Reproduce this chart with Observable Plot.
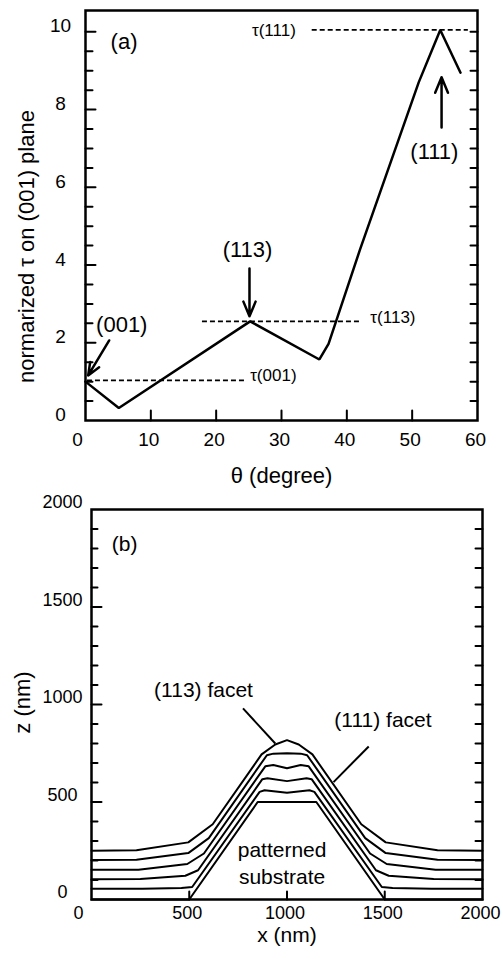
<!DOCTYPE html>
<html><head><meta charset="utf-8">
<script src="https://cdn.jsdelivr.net/npm/d3@7"></script>
<script src="https://cdn.jsdelivr.net/npm/@observablehq/plot@0.6"></script>
<style>
body{margin:0;background:#fff;}
#c{width:503px;}
#c svg{display:block;}
</style></head><body><div id="c"></div>
<script>
const FONT = '"Liberation Sans", Arial, Helvetica, sans-serif';

// ---------- panel (a) data ----------
const theta = [0, 5.1, 25.2, 35.8, 37.2, 42.0, 51.0, 54.3, 57.4];
const tau   = [1.0, 0.32, 2.55, 1.57, 1.97, 4.39, 8.7, 10.05, 8.95];
const refNames  = ["τ(001)", "τ(113)", "τ(111)"];
const refValues = [1.03, 2.55, 10.05];
const refFrom   = [0.3, 17.9, 34.7];
const refTo     = [24.5, 42.0, 58.6];
const xTicksA = [0, 10, 20, 30, 40, 50, 60];
const yTicksA = [0, 2, 4, 6, 8, 10];

// ---------- panel (b) data ----------
const xTicksB = [0, 500, 1000, 1500, 2000];
const zTicksB = [0, 500, 1000, 1500, 2000];
const substrate = [[0,0],[500,0],[850,500],[1150,500],[1500,0],[2000,0]];
const layer1 = [[0,55],[260,55],[460,59],[515,64],[860,552],[885,560],[1000,548],[1115,560],[1140,552],[1485,64],[1540,59],[1740,55],[2000,55]];
const layer2 = [[0,104],[250,105],[480,122],[545,150],[874,617],[900,622],[1000,607],[1100,622],[1126,617],[1455,150],[1520,122],[1750,105],[2000,104]];
const layer3 = [[0,152],[240,153],[490,182],[575,236],[889,683],[930,690],[1000,673],[1070,690],[1111,683],[1425,236],[1510,182],[1760,153],[2000,152]];
const layer4 = [[0,203],[230,204],[495,238],[600,315],[897,740],[930,748],[1000,750],[1070,748],[1103,740],[1400,315],[1505,238],[1770,204],[2000,203]];
const layer5 = [[0,250],[230,252],[495,293],[620,386],[870,744],[940,795],[1000,817],[1060,795],[1130,744],[1380,386],[1505,293],[1770,252],[2000,250]];
const profiles = [substrate, layer1, layer2, layer3, layer4, layer5];

// short inward ticks drawn as Plot vectors anchored to a frame side
function ticks(values, channel, side, len) {
  const rot = {left: 90, right: -90, bottom: 0}[side];
  return Plot.vector(values, {[channel]: d => d, frameAnchor: side, length: len, rotate: rot,
    anchor: "start", shape: "spike", r: 0, fill: "none", stroke: "black", strokeWidth: 2});
}

// ---------- panel (a) ----------
const curveA = theta.map((t, i) => ({theta: t, tau: tau[i]}));
const refs = refNames.map((n, i) => ({name: n, value: refValues[i], from: refFrom[i], to: refTo[i]}));
const refLabelsStart = [
  {name: refNames[0], x: 25.2, y: 1.16},
  {name: refNames[1], x: 43.6, y: 2.66}
];
const refLabelsEnd = [
  {name: refNames[2], x: 32.2, y: 10.04}
];
const annA = [
  {t: "(a)", x: 5.9, y: 9.73},
  {t: "(001)", x: 5.55, y: 2.45},
  {t: "(113)", x: 24.8, y: 4.38},
  {t: "(111)", x: 53.4, y: 6.9}
];
const arrowsA = [
  {x1: 3.63, y1: 2.06, x2: 0.41, y2: 1.16},
  {x1: 25.1, y1: 3.91, x2: 25.1, y2: 2.68},
  {x1: 54.5, y1: 7.54, x2: 54.5, y2: 8.83}
];
const yAllA = d3.range(0.5, 10.01, 0.5);
const yMinorA = yAllA.filter(d => d % 2 !== 0);

const plotA = Plot.plot({
  width: 503, height: 492,
  marginLeft: 85, marginRight: 26, marginTop: 10, marginBottom: 72,
  style: {fontFamily: FONT, background: "#fff"},
  x: {domain: [0, 60], axis: null},
  y: {domain: [0, 10.55], axis: null},
  marks: [
    ticks(yTicksA.filter(d => d > 0), "y", "left", 10),
    ticks(yMinorA, "y", "left", 7),
    ticks(yAllA, "y", "right", 7),
    ticks(xTicksA.filter(d => d > 0 && d < 60), "x", "bottom", 10),
    Plot.text(xTicksA.filter(d => d > 0), {x: d => d, text: d => String(d), frameAnchor: "bottom", dy: 19, dx: -2, textAnchor: "middle", lineAnchor: "middle", fontSize: 19}),
    Plot.text([0], {x: d => d, text: d => String(d), frameAnchor: "bottom", dy: 19, dx: -8, textAnchor: "middle", lineAnchor: "middle", fontSize: 19}),
    Plot.text(yTicksA, {y: d => d, text: d => String(d), frameAnchor: "left", dx: -25, dy: -5.5, textAnchor: "middle", lineAnchor: "middle", fontSize: 19}),
    Plot.text(["normarized τ on (001) plane"], {text: d => d, frameAnchor: "left", dx: -59, dy: 31, rotate: -90, textAnchor: "middle", lineAnchor: "middle", fontSize: 22}),
    Plot.text(["θ (degree)"], {text: d => d, frameAnchor: "bottom", dy: 55, textAnchor: "middle", lineAnchor: "middle", fontSize: 22}),
    Plot.ruleY(refs, {y: "value", x1: "from", x2: "to", strokeDasharray: "5,3", strokeWidth: 1.7}),
    Plot.text(refLabelsStart, {x: "x", y: "y", text: "name", textAnchor: "start", lineAnchor: "middle", fontSize: 17}),
    Plot.text(refLabelsEnd, {x: "x", y: "y", text: "name", textAnchor: "end", lineAnchor: "middle", fontSize: 17}),
    Plot.line(curveA, {x: "theta", y: "tau", strokeWidth: 2.5, strokeLinejoin: "miter"}),
    Plot.text(annA, {x: "x", y: "y", text: "t", textAnchor: "middle", lineAnchor: "middle", fontSize: 22}),
    Plot.arrow(arrowsA, {x1: "x1", y1: "y1", x2: "x2", y2: "y2", strokeWidth: 2.5, headLength: 13, headAngle: 45}),
    Plot.frame({strokeWidth: 2.5})
  ]
});

// ---------- panel (b) ----------
const annB = [
  {t: "(b)", x: 169, y: 1830},
  {t: "(113) facet", x: 573, y: 1084},
  {t: "(111) facet", x: 1491, y: 926},
  {t: "patterned\nsubstrate", x: 975, y: 192}
];
const pointersB = [
  {x1: 775, y1: 980, x2: 940, y2: 800},
  {x1: 1418, y1: 785, x2: 1238, y2: 602}
];
const zAllB = d3.range(100, 2000, 100);
const zMinorB = zAllB.filter(d => d % 500 !== 0);

const plotB = Plot.plot({
  width: 503, height: 467,
  marginLeft: 91, marginRight: 21, marginTop: 17, marginBottom: 60,
  style: {fontFamily: FONT, background: "#fff"},
  x: {domain: [0, 2000], axis: null},
  y: {domain: [0, 2000], axis: null},
  marks: [
    ticks(zTicksB.filter(d => d > 0 && d < 2000), "y", "left", 10),
    ticks(zMinorB, "y", "left", 6),
    ticks(zAllB, "y", "right", 7),
    ticks(xTicksB.filter(d => d > 0 && d < 2000), "x", "bottom", 8),
    Plot.text(xTicksB.filter(d => d > 0), {x: d => d, text: d => String(d), frameAnchor: "bottom", dy: 14, dx: -2, textAnchor: "middle", lineAnchor: "middle", fontSize: 18}),
    Plot.text([0], {x: d => d, text: d => String(d), frameAnchor: "bottom", dy: 14, dx: -13, textAnchor: "middle", lineAnchor: "middle", fontSize: 18}),
    Plot.text(zTicksB, {y: d => d, text: d => String(d), frameAnchor: "left", dx: -29, dy: -7, textAnchor: "middle", lineAnchor: "middle", fontSize: 18}),
    Plot.text(["z (nm)"], {text: d => d, frameAnchor: "left", dx: -69, dy: -2, rotate: -90, textAnchor: "middle", lineAnchor: "middle", fontSize: 22}),
    Plot.text(["x (nm)"], {text: d => d, frameAnchor: "bottom", dy: 36, textAnchor: "middle", lineAnchor: "middle", fontSize: 21}),
    ...profiles.map(p => Plot.line(p, {strokeWidth: 2})),
    Plot.link(pointersB, {x1: "x1", y1: "y1", x2: "x2", y2: "y2", strokeWidth: 2}),
    Plot.text(annB, {x: "x", y: "y", text: "t", textAnchor: "middle", lineAnchor: "middle", fontSize: 21, lineHeight: 1.25}),
    Plot.frame({strokeWidth: 2.5})
  ]
});

document.getElementById("c").append(plotA, plotB);
</script></body></html>
